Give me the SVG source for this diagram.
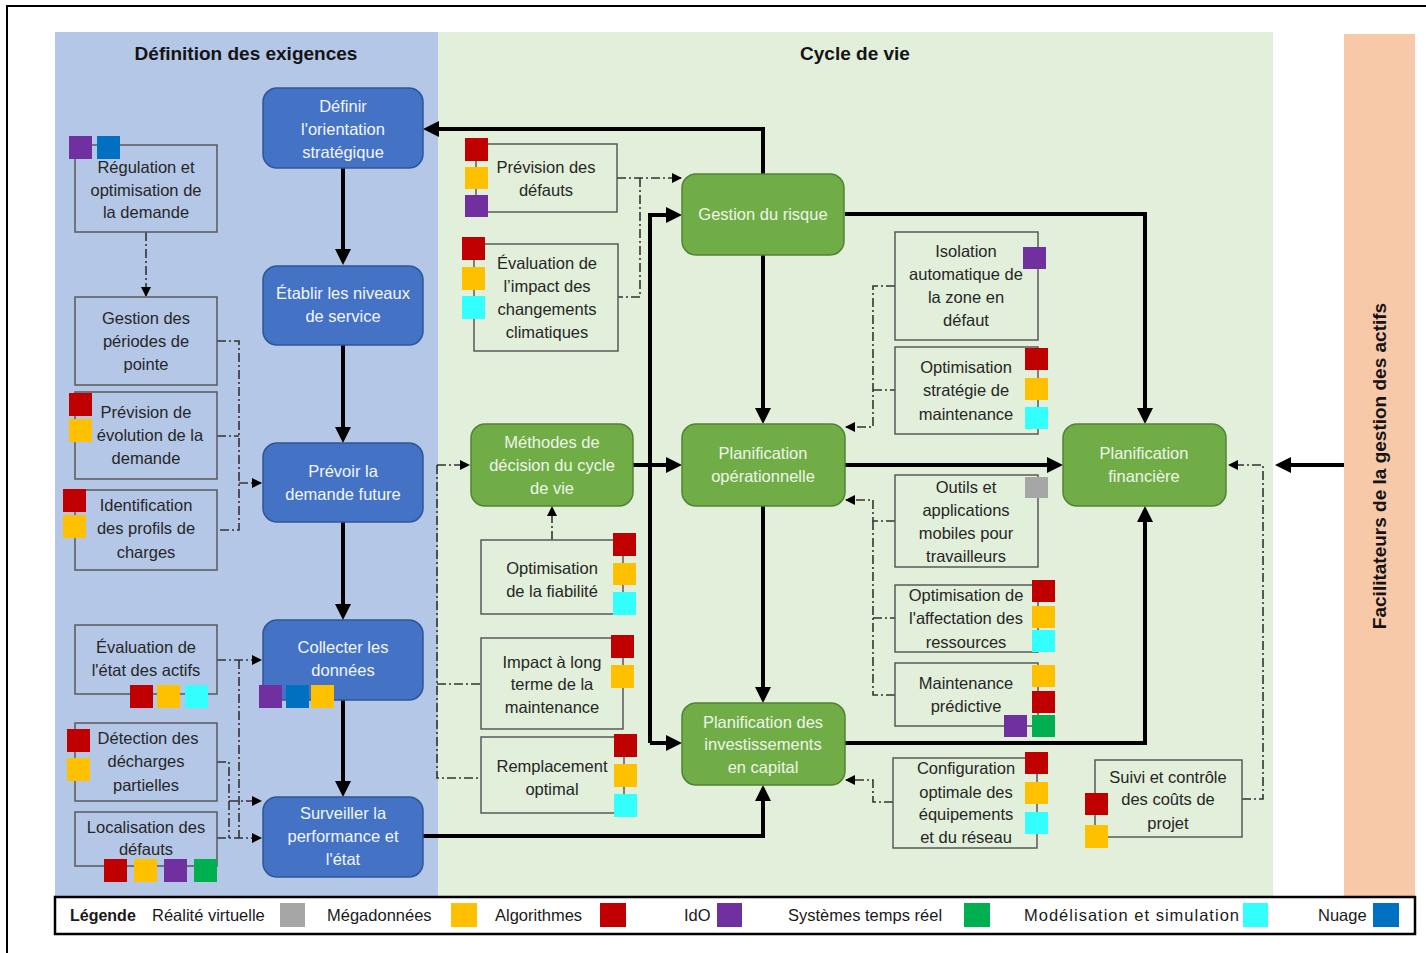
<svg xmlns="http://www.w3.org/2000/svg" width="1426" height="953" viewBox="0 0 1426 953">
  <style>
    .pb{fill:#b4c7e7}
    .pg{fill:#e2efda}
    .po{fill:#f7c9a9}
    .bn{fill:#4472c4;stroke:#2f5597;stroke-width:1.5}
    .gn{fill:#70ad47;stroke:#548235;stroke-width:1.5}
    .bx{fill:none;stroke:#595959;stroke-width:1.5}
    text{font-family:"Liberation Sans",Arial,sans-serif;font-size:16.5px;fill:#262626;text-anchor:middle}
    .tw{fill:#f3f6fc}
    .tg{fill:#eef6e8}
    .h{font-weight:bold;font-size:19px;fill:#141414}
    .lg{text-anchor:start;font-size:16.5px;fill:#1a1a1a}
    .r{fill:#c00000}.y{fill:#ffc000}.p{fill:#7030a0}.b{fill:#0070c0}
    .c{fill:#33ffff}.g{fill:#00b050}.v{fill:#a6a6a6}
    .k{fill:none;stroke:#000;stroke-width:4;marker-end:url(#ah)}
    .kl{fill:none;stroke:#000;stroke-width:4}
    .d{fill:none;stroke:#333;stroke-width:1.6;stroke-dasharray:9 3 2 3}
    .da{fill:none;stroke:#333;stroke-width:1.6;stroke-dasharray:9 3 2 3;marker-end:url(#sh)}
  </style>
  <defs>
    <marker id="ah" viewBox="0 0 16 16" refX="12" refY="8" markerWidth="16" markerHeight="16" markerUnits="userSpaceOnUse" orient="auto">
      <path d="M0,0 L16,8 L0,16 z" fill="#000"/>
    </marker>
    <marker id="sh" viewBox="0 0 10 10" refX="9" refY="5" markerWidth="10" markerHeight="10" markerUnits="userSpaceOnUse" orient="auto">
      <path d="M0,0 L10,5 L0,10 z" fill="#000"/>
    </marker>
  </defs>

  <!-- page -->
  <rect width="1426" height="953" fill="#fff"/>
  <rect x="7" y="6" width="1440" height="970" fill="none" stroke="#000" stroke-width="2"/>

  <!-- swimlanes -->
  <g id="lanes">
    <rect class="pb" x="55" y="32" width="383" height="865"/>
    <rect class="pg" x="438" y="32" width="835" height="865"/>
    <rect class="po" x="1344" y="34" width="71" height="863"/>
    <text class="h" x="246" y="60">Définition des exigences</text>
    <text class="h" x="855" y="60">Cycle de vie</text>
    <text class="h" transform="translate(1386,466) rotate(-90)">Facilitateurs de la gestion des actifs</text>
  </g>

  <!-- connectors -->
  <g id="connectors">
    <!-- main blue chain -->
    <path class="k" d="M343 168 V261"/>
    <path class="k" d="M343 345 V439"/>
    <path class="k" d="M343 522 V616"/>
    <path class="k" d="M343 700 V793"/>
    <path class="k" d="M423 836 H763 V789"/>
    <path class="k" d="M763 174 V129 H427"/>
    <!-- life cycle -->
    <path class="k" d="M763 255 V420"/>
    <path class="k" d="M845 214 H1145 V420"/>
    <path class="k" d="M633 465 H678"/>
    <path class="k" d="M650 743 V215 H678"/>
    <path class="k" d="M650 743 H678"/>
    <path class="k" d="M845 465 H1059"/>
    <path class="k" d="M763 506 V699"/>
    <path class="k" d="M845 743 H1145 V510"/>
    <path class="k" d="M1344 465 H1279"/>

    <!-- dash-dot links, requirements lane -->
    <path class="da" d="M146 232 V296"/>
    <path class="d" d="M217 341 H239 V530 H217"/>
    <path class="d" d="M217 436 H239"/>
    <path class="da" d="M239 483 H261"/>
    <path class="da" d="M217 660 H261"/>
    <path class="d" d="M239 660 V838"/>
    <path class="da" d="M217 762 H229 V801 H261"/>
    <path class="d" d="M229 801 V838"/>
    <path class="da" d="M217 838 H261"/>

    <!-- dash-dot links, life cycle lane -->
    <path class="da" d="M617 178 H681"/>
    <path class="d" d="M640 178 V297 H618"/>
    <path class="da" d="M552 540 V507"/>
    <path class="da" d="M437 465 H469"/>
    <path class="d" d="M437 465 V778 H480"/>
    <path class="d" d="M437 684 H480"/>
    <path class="da" d="M895 286 H873 V427 H846"/>
    <path class="d" d="M873 390 H895"/>
    <path class="da" d="M895 521 H873 V500 H846"/>
    <path class="d" d="M873 521 V695 H895"/>
    <path class="d" d="M873 618 H895"/>
    <path class="da" d="M893 802 H873 V780 H846"/>
    <path class="da" d="M1242 799 H1263 V465 H1229"/>
  </g>

  <!-- process nodes: requirements -->
  <g id="definir">
    <rect class="bn" x="263" y="88" width="160" height="80" rx="14"/>
    <text class="tw" x="343" y="112">Définir</text>
    <text class="tw" x="343" y="135">l'orientation</text>
    <text class="tw" x="343" y="158">stratégique</text>
  </g>
  <g id="etablir">
    <rect class="bn" x="263" y="266" width="160" height="79" rx="14"/>
    <text class="tw" x="343" y="299">Établir les niveaux</text>
    <text class="tw" x="343" y="322">de service</text>
  </g>
  <g id="prevoir">
    <rect class="bn" x="263" y="443" width="160" height="79" rx="14"/>
    <text class="tw" x="343" y="477">Prévoir la</text>
    <text class="tw" x="343" y="500">demande future</text>
  </g>
  <g id="collecter">
    <rect class="bn" x="263" y="620" width="160" height="80" rx="14"/>
    <text class="tw" x="343" y="653">Collecter les</text>
    <text class="tw" x="343" y="676">données</text>
    <rect class="p" x="259" y="685" width="23" height="23"/>
    <rect class="b" x="286" y="685" width="23" height="23"/>
    <rect class="y" x="311" y="685" width="23" height="23"/>
  </g>
  <g id="surveiller">
    <rect class="bn" x="263" y="797" width="160" height="80" rx="14"/>
    <text class="tw" x="343" y="819">Surveiller la</text>
    <text class="tw" x="343" y="842">performance et</text>
    <text class="tw" x="343" y="865">l'état</text>
  </g>

  <!-- supporting boxes: requirements -->
  <g id="regulation">
    <rect class="bx" x="75" y="145" width="142" height="87"/>
    <rect class="p" x="69" y="136" width="23" height="23"/>
    <rect class="b" x="97" y="136" width="23" height="23"/>
    <text x="146" y="173">Régulation et</text>
    <text x="146" y="196">optimisation de</text>
    <text x="146" y="218">la demande</text>
  </g>
  <g id="pointe">
    <rect class="bx" x="75" y="297" width="142" height="88"/>
    <text x="146" y="324">Gestion des</text>
    <text x="146" y="347">périodes de</text>
    <text x="146" y="370">pointe</text>
  </g>
  <g id="evolution">
    <rect class="bx" x="75" y="392" width="142" height="87"/>
    <text x="146" y="418">Prévision de</text>
    <text x="150" y="441">évolution de la</text>
    <text x="146" y="464">demande</text>
    <rect class="r" x="69" y="393" width="23" height="23"/>
    <rect class="y" x="69" y="419" width="23" height="23"/>
  </g>
  <g id="profils">
    <rect class="bx" x="75" y="490" width="142" height="80"/>
    <rect class="r" x="63" y="489" width="23" height="23"/>
    <rect class="y" x="63" y="515" width="23" height="23"/>
    <text x="146" y="511">Identification</text>
    <text x="146" y="534">des profils de</text>
    <text x="146" y="558">charges</text>
  </g>
  <g id="etat-actifs">
    <rect class="bx" x="75" y="625" width="142" height="69"/>
    <text x="146" y="653">Évaluation de</text>
    <text x="146" y="676">l'état des actifs</text>
    <rect class="r" x="130" y="685" width="23" height="23"/>
    <rect class="y" x="157" y="685" width="23" height="23"/>
    <rect class="c" x="185" y="685" width="23" height="23"/>
  </g>
  <g id="decharges">
    <rect class="bx" x="75" y="723" width="142" height="78"/>
    <rect class="r" x="67" y="729" width="23" height="23"/>
    <rect class="y" x="67" y="758" width="23" height="23"/>
    <text x="148" y="744">Détection des</text>
    <text x="146" y="767">décharges</text>
    <text x="146" y="791">partielles</text>
  </g>
  <g id="localisation">
    <rect class="bx" x="75" y="812" width="142" height="54"/>
    <text x="146" y="833">Localisation des</text>
    <text x="146" y="855">défauts</text>
    <rect class="r" x="104" y="859" width="23" height="23"/>
    <rect class="y" x="134" y="859" width="23" height="23"/>
    <rect class="p" x="164" y="859" width="23" height="23"/>
    <rect class="g" x="194" y="859" width="23" height="23"/>
  </g>

  <!-- process nodes: life cycle -->
  <g id="risque">
    <rect class="gn" x="682" y="174" width="162" height="81" rx="14"/>
    <text class="tg" x="763" y="220">Gestion du risque</text>
  </g>
  <g id="methodes">
    <rect class="gn" x="471" y="424" width="162" height="82" rx="14"/>
    <text class="tg" x="552" y="448">Méthodes de</text>
    <text class="tg" x="552" y="471">décision du cycle</text>
    <text class="tg" x="552" y="494">de vie</text>
  </g>
  <g id="operationnelle">
    <rect class="gn" x="682" y="424" width="163" height="82" rx="14"/>
    <text class="tg" x="763" y="459">Planification</text>
    <text class="tg" x="763" y="482">opérationnelle</text>
  </g>
  <g id="investissements">
    <rect class="gn" x="682" y="703" width="163" height="82" rx="14"/>
    <text class="tg" x="763" y="728">Planification des</text>
    <text class="tg" x="763" y="750">investissements</text>
    <text class="tg" x="763" y="773">en capital</text>
  </g>
  <g id="financiere">
    <rect class="gn" x="1063" y="424" width="163" height="82" rx="14"/>
    <text class="tg" x="1144" y="459">Planification</text>
    <text class="tg" x="1144" y="482">financière</text>
  </g>

  <!-- supporting boxes: life cycle -->
  <g id="prevision-defauts">
    <rect class="bx" x="476" y="144" width="141" height="68"/>
    <rect class="r" x="465" y="138" width="23" height="23"/>
    <rect class="y" x="465" y="167" width="23" height="22"/>
    <rect class="p" x="465" y="195" width="23" height="22"/>
    <text x="546" y="173">Prévision des</text>
    <text x="546" y="196">défauts</text>
  </g>
  <g id="climat">
    <rect class="bx" x="474" y="244" width="144" height="107"/>
    <rect class="r" x="462" y="237" width="23" height="23"/>
    <rect class="y" x="462" y="267" width="23" height="23"/>
    <rect class="c" x="462" y="296" width="23" height="23"/>
    <text x="547" y="269">Évaluation de</text>
    <text x="547" y="292">l’impact des</text>
    <text x="547" y="315">changements</text>
    <text x="547" y="338">climatiques</text>
  </g>
  <g id="fiabilite">
    <rect class="bx" x="481" y="540" width="142" height="74"/>
    <text x="552" y="574">Optimisation</text>
    <text x="552" y="597">de la fiabilité</text>
    <rect class="r" x="613" y="533" width="23" height="23"/>
    <rect class="y" x="613" y="563" width="23" height="22"/>
    <rect class="c" x="613" y="592" width="23" height="23"/>
  </g>
  <g id="impact-maintenance">
    <rect class="bx" x="481" y="638" width="142" height="91"/>
    <text x="552" y="668">Impact à long</text>
    <text x="552" y="690">terme de la</text>
    <text x="552" y="713">maintenance</text>
    <rect class="r" x="611" y="635" width="23" height="23"/>
    <rect class="y" x="611" y="665" width="23" height="23"/>
  </g>
  <g id="remplacement">
    <rect class="bx" x="481" y="737" width="143" height="76"/>
    <text x="552" y="772">Remplacement</text>
    <text x="552" y="795">optimal</text>
    <rect class="r" x="614" y="734" width="23" height="23"/>
    <rect class="y" x="614" y="764" width="23" height="23"/>
    <rect class="c" x="614" y="794" width="23" height="23"/>
  </g>
  <g id="isolation">
    <rect class="bx" x="895" y="232" width="143" height="108"/>
    <text x="966" y="257">Isolation</text>
    <text x="966" y="280">automatique de</text>
    <text x="966" y="303">la zone en</text>
    <text x="966" y="326">défaut</text>
    <rect class="p" x="1023" y="247" width="23" height="22"/>
  </g>
  <g id="strategie-maintenance">
    <rect class="bx" x="895" y="347" width="143" height="87"/>
    <text x="966" y="373">Optimisation</text>
    <text x="966" y="396">stratégie de</text>
    <text x="966" y="420">maintenance</text>
    <rect class="r" x="1025" y="348" width="23" height="22"/>
    <rect class="y" x="1025" y="378" width="23" height="22"/>
    <rect class="c" x="1025" y="407" width="23" height="22"/>
  </g>
  <g id="outils-mobiles">
    <rect class="bx" x="895" y="475" width="143" height="92"/>
    <text x="966" y="493">Outils et</text>
    <text x="966" y="516">applications</text>
    <text x="966" y="539">mobiles pour</text>
    <text x="966" y="562">travailleurs</text>
    <rect class="v" x="1025" y="477" width="23" height="21"/>
  </g>
  <g id="affectation">
    <rect class="bx" x="895" y="585" width="143" height="67"/>
    <text x="966" y="601">Optimisation de</text>
    <text x="966" y="624">l'affectation des</text>
    <text x="966" y="648">ressources</text>
    <rect class="r" x="1032" y="580" width="23" height="22"/>
    <rect class="y" x="1032" y="606" width="23" height="22"/>
    <rect class="c" x="1032" y="630" width="23" height="22"/>
  </g>
  <g id="predictive">
    <rect class="bx" x="895" y="663" width="143" height="63"/>
    <text x="966" y="689">Maintenance</text>
    <text x="966" y="712">prédictive</text>
    <rect class="y" x="1032" y="665" width="23" height="22"/>
    <rect class="r" x="1032" y="691" width="23" height="22"/>
    <rect class="p" x="1004" y="715" width="23" height="22"/>
    <rect class="g" x="1032" y="715" width="23" height="22"/>
  </g>
  <g id="configuration">
    <rect class="bx" x="893" y="758" width="144" height="90"/>
    <text x="966" y="774">Configuration</text>
    <text x="966" y="798">optimale des</text>
    <text x="966" y="820">équipements</text>
    <text x="966" y="843">et du réseau</text>
    <rect class="r" x="1025" y="752" width="23" height="22"/>
    <rect class="y" x="1025" y="782" width="23" height="22"/>
    <rect class="c" x="1025" y="812" width="23" height="22"/>
  </g>
  <g id="suivi-couts">
    <rect class="bx" x="1095" y="760" width="147" height="77"/>
    <text x="1168" y="783">Suivi et contrôle</text>
    <text x="1168" y="805">des coûts de</text>
    <text x="1168" y="829">projet</text>
    <rect class="r" x="1085" y="793" width="23" height="22"/>
    <rect class="y" x="1085" y="825" width="23" height="23"/>
  </g>

  <!-- legend -->
  <g id="legend">
    <rect x="55" y="897" width="1360" height="37" fill="#fff" stroke="#000" stroke-width="2.5"/>
    <text class="lg" x="70" y="921" style="font-weight:bold;font-size:16px">Légende</text>
    <text class="lg" x="152" y="921">Réalité virtuelle</text>
    <rect class="v" x="280" y="903" width="25" height="24"/>
    <text class="lg" x="327" y="921">Mégadonnées</text>
    <rect class="y" x="451" y="903" width="26" height="24"/>
    <text class="lg" x="495" y="921">Algorithmes</text>
    <rect class="r" x="600" y="903" width="26" height="24"/>
    <text class="lg" x="684" y="921">IdO</text>
    <rect class="p" x="717" y="903" width="25" height="24"/>
    <text class="lg" x="788" y="921">Systèmes temps réel</text>
    <rect class="g" x="964" y="903" width="26" height="24"/>
    <text class="lg" x="1024" y="921" textLength="215">Modélisation et simulation</text>
    <rect class="c" x="1243" y="903" width="25" height="24"/>
    <text class="lg" x="1318" y="921">Nuage</text>
    <rect class="b" x="1373" y="903" width="26" height="24"/>
  </g>
</svg>
